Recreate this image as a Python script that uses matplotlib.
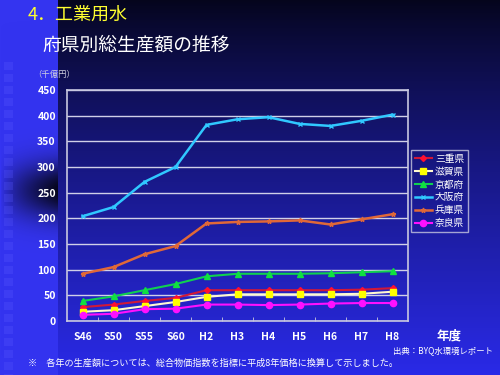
import numpy as np
import matplotlib
matplotlib.use("Agg")
import matplotlib.pyplot as plt

plt.rcParams['font.family'] = ['Noto Sans CJK JP', 'DejaVu Sans']

# Data (千億円)
years = ["S46", "S50", "S55", "S60", "H2", "H3", "H4", "H5", "H6", "H7", "H8"]
mie = [27, 32, 39, 45, 60, 60, 60, 60, 60, 61, 64]
shiga = [18, 21, 29, 37, 47, 52, 52, 52, 52, 53, 57]
kyoto = [39, 48, 60, 72, 87, 92, 92, 92, 93, 95, 97]
osaka = [204, 222, 271, 300, 382, 393, 397, 384, 380, 390, 402]
hyogo = [92, 105, 130, 146, 190, 193, 194, 196, 188, 198, 208]
nara = [12, 14, 23, 24, 32, 32, 31, 32, 34, 35, 35]

W, H = 500, 375
fig = plt.figure(figsize=(5, 3.75), dpi=100)

# Background gradient
yy, xx = np.mgrid[0:H, 0:W]
t = (yy / H) ** 0.85
top = np.array([5, 5, 28])
bot = np.array([42, 42, 232])
img = top[None, None, :] * (1 - t[..., None]) + bot[None, None, :] * t[..., None]
# left strip
strip = xx < 58
bright = np.array([52, 52, 240])
dark = np.exp(-((yy - 190) / 28.0) ** 2) * np.clip(xx / 58.0, 0, 1) ** 0.7
strip_col = bright[None, None, :] * (1 - 0.9 * dark[..., None])
img = np.where(strip[..., None], strip_col, img)
# squares
for y0 in range(62, H, 12):
    img[y0:y0 + 8, 4:13] = img[y0:y0 + 8, 4:13] * 0.75 + np.array([90, 90, 255]) * 0.25
img = np.clip(img, 0, 255).astype(np.uint8)
bg = fig.add_axes([0, 0, 1, 1], zorder=-1)
bg.imshow(img, aspect="auto", extent=[0, W, H, 0])
bg.axis("off")

ax = fig.add_axes([67 / W, 1 - 321 / H, 341 / W, 231 / H])
ax.patch.set_alpha(0)
x = np.arange(len(years))

ax.plot(x, mie, color="#d01838", marker="D", ms=3, mfc="#ff1030", mec="#ff1030", lw=1.5, label="三重県")
ax.plot(x, shiga, color="#fff8d0", marker="s", ms=4.5, mfc="#ffff00", mec="#ffff00", lw=1.5, label="滋賀県")
ax.plot(x, kyoto, color="#10d050", marker="^", ms=4.5, mfc="#10e040", mec="#10e040", lw=1.5, label="京都府")
ax.plot(x, osaka, color="#30c8ff", marker="x", ms=3, mew=1, lw=1.8, label="大阪府")
ax.plot(x, hyogo, color="#e06838", marker="*", ms=3.5, lw=1.8, label="兵庫県")
ax.plot(x, nara, color="#ff10ff", marker="o", ms=4.5, lw=1.5, label="奈良県")

ax.set_xlim(-0.5, len(years) - 0.5)
ax.set_ylim(0, 450)
ax.set_yticks(range(0, 451, 50))
ax.set_xticks(x)
ax.set_xticklabels(years)
ax.set_xticks(x[:-1] + 0.5, minor=True)
ax.tick_params(axis="x", which="major", length=0, pad=8, colors="white", labelsize=7.5)
ax.tick_params(axis="x", which="minor", direction="in", length=3, color="#c8c8e0")
ax.tick_params(axis="y", length=0, pad=8, colors="white", labelsize=7.5)
for lab in ax.get_xticklabels() + ax.get_yticklabels():
    lab.set_fontweight("bold")
ax.grid(axis="y", color="#d0d0e8", lw=1)
ax.set_axisbelow(True)
for s in ax.spines.values():
    s.set_color("#c8c8e0")
    s.set_linewidth(1.2)

leg = ax.legend(loc="upper left", bbox_to_anchor=(0.995, 0.76), fontsize=7, frameon=True,
                handlelength=1.8, handletextpad=0.3, borderpad=0.35, labelspacing=0.3,
                fancybox=False)
leg.get_frame().set_facecolor("none")
leg.get_frame().set_edgecolor("#c8c8e0")
for txt in leg.get_texts():
    txt.set_color("white")

fig.text(28 / W, 1 - 15 / H, "4．工業用水", color="#ffff30", fontsize=13, va="center", ha="left")
fig.text(42 / W, 1 - 45 / H, "府県別総生産額の推移", color="white", fontsize=13.5, va="center", ha="left")
fig.text(33 / W, 1 - 74 / H, "（千億円）", color="#d0d0e0", fontsize=6, va="center", ha="left")
fig.text(437 / W, 1 - 336 / H, "年度", color="white", fontsize=9, fontweight="bold", va="center", ha="left")
fig.text(493 / W, 1 - 351 / H, "出典：BYQ水環境レポート", color="white", fontsize=6, va="center", ha="right")
fig.text(28 / W, 1 - 363 / H, "※　各年の生産額については、総合物価指数を指標に平成8年価格に換算して示しました。",
         color="white", fontsize=6.6, va="center", ha="left")

fig.savefig("out.png", dpi=100)
